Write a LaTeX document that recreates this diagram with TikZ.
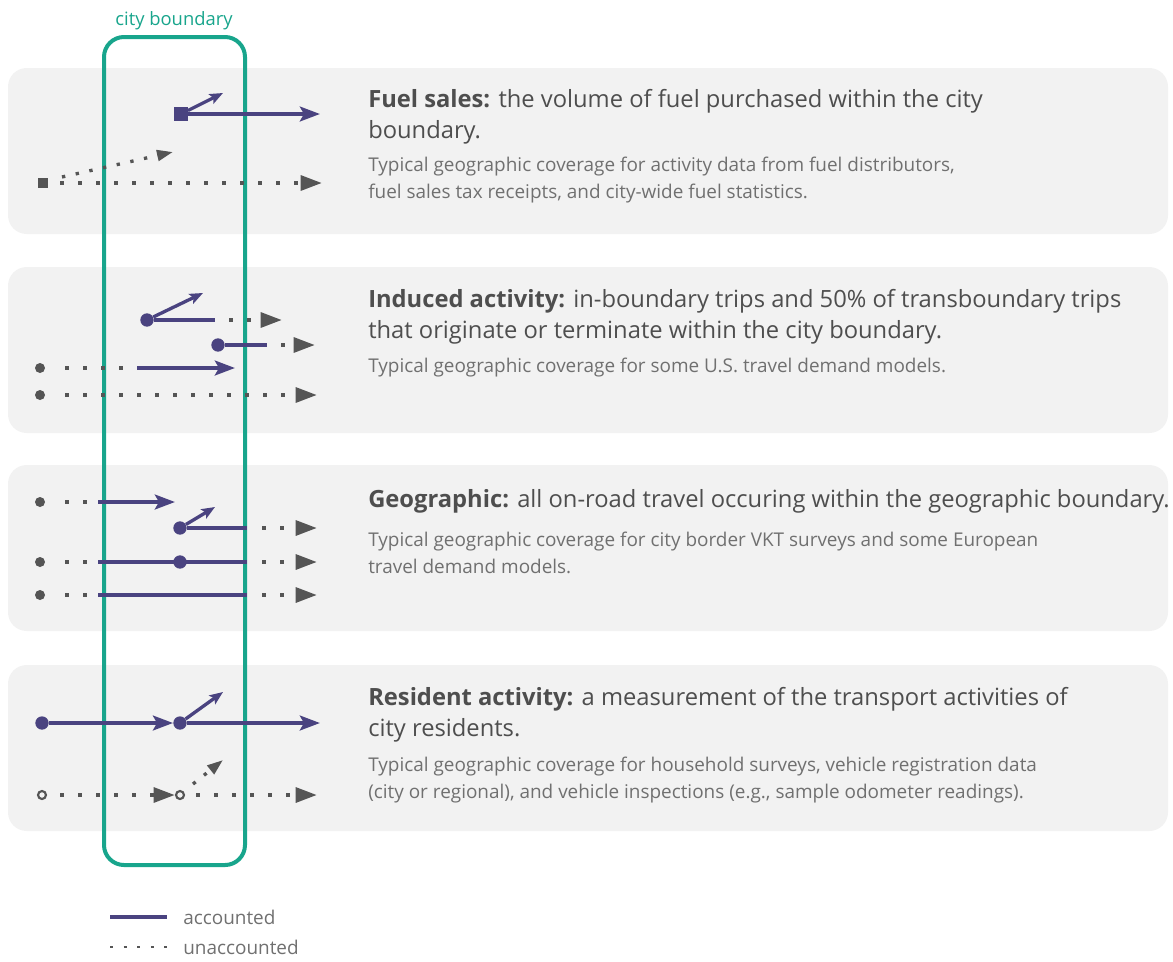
\documentclass[tikz,border=0pt]{standalone}
\usepackage{fontspec}
\setmainfont{Open Sans}
\usetikzlibrary{arrows.meta}

\definecolor{acccol}{RGB}{74,67,128}
\definecolor{uncol}{RGB}{85,85,85}
\definecolor{citycol}{RGB}{24,165,140}
\definecolor{panelcol}{RGB}{242,242,242}
\definecolor{headcol}{RGB}{78,78,78}
\definecolor{bodycol}{RGB}{112,112,112}

\tikzset{
    acc/.style={draw=acccol, line width=3pt},
    unacc/.style={draw=uncol, line width=3pt, dash pattern=on 3pt off 10.5pt},
    accto/.style={acc, -{Stealth[length=15pt, width=11pt, inset=3pt]}},
    acctilt/.style={acc, line width=2.5pt, -{Stealth[length=10pt, width=8pt, inset=2pt]}},
    unaccto/.style={unacc, -{Triangle[length=16pt, width=11pt]}},
    unacctilt/.style={unacc, line width=2.5pt, dash pattern=on 2.5pt off 8pt, -{Triangle[length=12pt, width=8pt]}},
    accdot/.style={circle, fill=acccol, inner sep=0pt, minimum size=10pt},
    accsq/.style={rectangle, fill=acccol, inner sep=0pt, minimum size=10pt},
    undot/.style={circle, fill=uncol, inner sep=0pt, minimum size=7.5pt},
    unsq/.style={rectangle, fill=uncol, inner sep=0pt, minimum size=7.5pt},
    unring/.style={circle, draw=uncol, line width=1.6pt, fill=panelcol, inner sep=0pt, minimum size=6pt},
    head/.style={anchor=base west, align=left, inner sep=0pt, text=headcol, font=\fontsize{17.8}{23.25}\selectfont},
    body/.style={anchor=base west, align=left, inner sep=0pt, text=bodycol, font=\fontsize{14.2}{20}\selectfont},
    legend/.style={anchor=west, inner sep=0pt, text=bodycol, font=\fontsize{14.2}{16}\selectfont},
}

\begin{document}
\begin{tikzpicture}[x=0.75pt, y=-0.75pt]
    \useasboundingbox (0, 0) rectangle (1173, 961);
    \foreach \t in {68, 267, 465, 665}
        \fill[panelcol, rounded corners=14pt] (8, \t) rectangle (1168, \t + 166);

    \draw[citycol, line width=3pt, rounded corners=15pt] (104, 37) rectangle (245, 865);
    \node[text=citycol, font=\fontsize{13.8}{15}\selectfont] (city) at (174, 21) {city boundary};

    % fuel sales
    \node[accsq] (f1) at (181, 114) {};
    \draw[accto] (f1) -- (320, 114);
    \draw[acctilt] (f1) -- (223, 93);
    \node[unsq] (f2) at (43, 183) {};
    \draw[unaccto] (60, 183) -- (322, 183);
    \draw[unacctilt] (62, 177) -- (173, 152);
    \node[head] (fuelH) at (368, 138) {\textbf{Fuel sales:} the volume of fuel purchased within the city\\boundary.};
    \node[body] (fuelB) at (368, 198) {Typical geographic coverage for activity data from fuel distributors,\\fuel sales tax receipts, and city-wide fuel statistics.};

    % induced activity
    \node[accdot] (i1) at (147, 320) {};
    \draw[acc] (i1) -- (215, 320);
    \draw[unaccto] (229, 320) -- (282, 320);
    \draw[acctilt] (i1) -- (203, 293);
    \node[accdot] (i2) at (218, 345) {};
    \draw[acc] (i2) -- (267, 345);
    \draw[unaccto] (281, 345) -- (315, 345);
    \node[undot] (i3) at (40, 368) {};
    \draw[unacc] (65, 368) -- (137, 368);
    \draw[accto] (137, 368) -- (235, 368);
    \node[undot] (i4) at (40, 395) {};
    \draw[unaccto] (65, 395) -- (317, 395);
    \node[head] (indH) at (368, 338) {\textbf{Induced activity:} in-boundary trips and 50\% of transboundary trips\\that originate or terminate within the city boundary.};
    \node[body] (indB) at (368, 372) {Typical geographic coverage for some U.S. travel demand models.};

    % geographic
    \foreach \y in {502, 562, 595}
    {
        \node[undot] at (40, \y) {};
        \draw[unacc] (65, \y) -- (90, \y);
    }
    \draw[accto] (98, 502) -- (175, 502);
    \node[accdot] (g1) at (180, 528) {};
    \draw[acc] (g1) -- (247, 528);
    \draw[acctilt] (g1) -- (215, 507);
    \foreach \y in {528, 562, 595}
        \draw[unaccto] (262, \y) -- (317, \y);
    \draw[acc] (98, 562) -- (247, 562);
    \draw[acc] (98, 595) -- (247, 595);
    \node[accdot] (g2) at (180, 562) {};
    \node[head] (geoH) at (368, 507) {\textbf{Geographic:} all on-road travel occuring within the geographic boundary.};
    \node[body] (geoB) at (368, 573) {Typical geographic coverage for city border VKT surveys and some European\\travel demand models.};

    % resident activity
    \node[accdot] (r1) at (42, 723) {};
    \node[accdot] (r2) at (180, 723) {};
    \draw[accto] (r1) -- (r2.west);
    \draw[accto] (r2) -- (320, 723);
    \draw[acctilt] (r2) -- (223, 692);
    \node[unring] (r3) at (42, 795) {};
    \node[unring] (r4) at (180, 795) {};
    \draw[unaccto] (60, 795) -- (r4.west);
    \draw[unaccto] (196, 795) -- (317, 795);
    \draw[unacctilt] (193, 784) -- (223, 760);
    \node[head] (resH) at (368, 736) {\textbf{Resident activity:} a measurement of the transport activities of\\city residents.};
    \node[body] (resB) at (368, 798) {Typical geographic coverage for household surveys, vehicle registration data\\(city or regional), and vehicle inspections (e.g., sample odometer readings).};

    % legend
    \node[legend] (accL) at (183, 917) {accounted};
    \node[legend] (unaccL) at (183, 947) {unaccounted};
    \draw[acc, line width=2.5pt, shorten >=12pt] (110, 917) -- (accL.west);
    \draw[draw=uncol, line width=2.2pt, dash pattern=on 2.2pt off 8pt, shorten >=12pt] (110, 947) -- (unaccL.west);
\end{tikzpicture}
\end{document}
